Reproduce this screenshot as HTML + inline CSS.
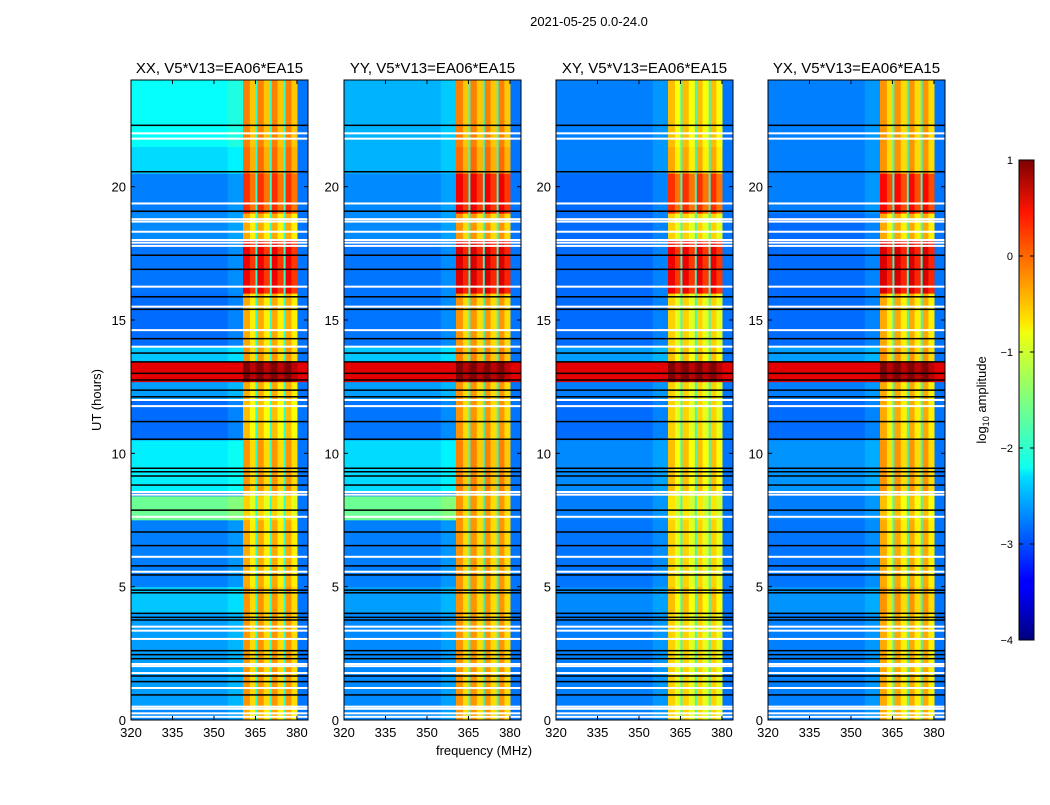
<!DOCTYPE html>
<html><head><meta charset="utf-8">
<style>
body{margin:0;background:#fff;font-family:"Liberation Sans",sans-serif;}
svg text{font-family:"Liberation Sans",sans-serif;}
</style></head>
<body>
<svg id="fig" width="1050" height="800" viewBox="0 0 1050 800">
<rect width="1050" height="800" fill="#fff"/>
<defs>
<linearGradient id="jet" x1="0" y1="1" x2="0" y2="0">
<stop offset="0" stop-color="#00007f"/><stop offset="0.11" stop-color="#0000ff"/>
<stop offset="0.125" stop-color="#0000ff"/><stop offset="0.34" stop-color="#00dcff"/>
<stop offset="0.36" stop-color="#0fffef"/><stop offset="0.5" stop-color="#7fff7f"/>
<stop offset="0.64" stop-color="#efff0f"/><stop offset="0.66" stop-color="#ffe800"/>
<stop offset="0.89" stop-color="#ff1600"/><stop offset="1" stop-color="#7f0000"/>
</linearGradient>
</defs>
<text x="589" y="26" font-size="13" text-anchor="middle">2021-05-25 0.0-24.0</text>
<g id="panels"></g>
<g>
<rect x="1019" y="160" width="15" height="480" fill="url(#jet)" stroke="#000" stroke-width="1"/>
</g>
<g id="cbticks"></g>
<text transform="translate(986,400) rotate(-90)" font-size="13" text-anchor="middle">log<tspan font-size="9" dy="3">10</tspan><tspan dy="-3"> amplitude</tspan></text>
<text x="484" y="755" font-size="13" text-anchor="middle">frequency (MHz)</text>
<text transform="translate(101,400) rotate(-90)" font-size="13" text-anchor="middle">UT (hours)</text>
</svg>
<script>
const panelTitles = ["XX, V5*V13=EA06*EA15","YY, V5*V13=EA06*EA15","XY, V5*V13=EA06*EA15","YX, V5*V13=EA06*EA15"];
const segEdges = [0,0.5,4,5,7.5,8.4,8.6,10.5,12,12.68,13.43,14,16,18,19,20.5,21.5,24];
const bgXX = [-2.7,-2.6,-2.4,-2.75,-1.6,-2.8,-2.2,-2.85,-2.6,0.5,-2.4,-2.85,-2.8,-2.7,-2.75,-2.3,-2.1];
const bgYY = [-2.7,-2.7,-2.6,-2.75,-1.6,-2.8,-2.3,-2.8,-2.6,0.5,-2.4,-2.8,-2.8,-2.7,-2.7,-2.5,-2.5];
const bgXY = [-2.75,-2.75,-2.7,-2.8,-2.75,-2.8,-2.7,-2.85,-2.75,0.5,-2.6,-2.85,-2.85,-2.85,-2.85,-2.75,-2.75];
const bgYX = [-2.75,-2.75,-2.65,-2.8,-2.75,-2.8,-2.65,-2.85,-2.75,0.5,-2.6,-2.85,-2.85,-2.85,-2.75,-2.75,-2.75];
const rfiXX = [-0.6,-0.5,-0.5,-0.6,-0.8,-0.6,-0.5,-0.7,-0.6,0.9,-0.5,-0.6,0.3,-0.6,0.0,-0.3,-0.4];
const rfiYY = [-0.5,-0.5,-0.5,-0.5,-0.5,-0.5,-0.4,-0.5,-0.5,0.9,-0.4,-0.5,0.4,-0.5,0.3,-0.3,-0.4];
const rfiXY = [-0.8,-0.8,-0.7,-0.8,-0.9,-0.8,-0.7,-0.8,-0.8,0.9,-0.7,-0.8,0.3,-0.8,0.0,-0.6,-0.7];
const rfiYX = [-0.6,-0.6,-0.5,-0.6,-0.7,-0.6,-0.5,-0.6,-0.6,0.9,-0.5,-0.6,0.4,-0.6,0.2,-0.5,-0.5];
const freqEdges = [320,355,360.5,363,365,365.7,368,370.2,370.9,373,375.2,375.9,378,380.2,384];
const colKind = ['bg','bg2','rfiA','rfiB','sep','rfiA','rfiB','sep','rfiA','rfiB','sep','rfiA','rfiB','blue'];
const whiteLines = [0.12,0.25,0.42,0.5,1.2,1.76,2.02,2.1,3.04,3.35,3.5,5.56,6.12,7.62,8.45,8.55,11.77,12.0,14.0,14.62,15.5,16.25,17.78,17.9,18.0,18.31,18.69,18.78,19.37,21.8,22.0];
const blackLines = [0.94,1.44,1.65,2.3,2.45,2.6,3.75,3.85,4.0,4.77,4.87,5.44,5.78,6.54,7.05,7.87,8.81,9.15,9.31,9.44,10.53,11.19,12.12,12.37,12.75,13.0,13.43,13.76,14.3,15.4,15.87,16.9,17.43,19.08,20.56,22.3];
const xTicks = [320,335,350,365,380];
const yTicks = [0,5,10,15,20];
const cbTicks = [1,0,-1,-2,-3,-4];
const panelX = [131,344,556,768];
const bgs=[bgXX,bgYY,bgXY,bgYX], rfis=[rfiXX,rfiYY,rfiXY,rfiYX];
const PW=177, PT=80, PH=640;
const NS="http://www.w3.org/2000/svg";
function jet(v){let t=(v+4)/5;t=Math.max(0,Math.min(1,t));
 const c=x=>Math.round(255*Math.max(0,Math.min(1,x)));
 return `rgb(${c(1.5-Math.abs(4*t-3))},${c(1.5-Math.abs(4*t-2))},${c(1.5-Math.abs(4*t-1))})`;}
function mk(tag,attrs,parent){const e=document.createElementNS(NS,tag);for(const k in attrs)e.setAttribute(k,attrs[k]);parent.appendChild(e);return e;}
const root=document.getElementById('panels');
panelX.forEach((x0,p)=>{
 const xs=f=>x0+(f-320)*(PW/64);
 const ys=h=>PT+PH-h*(PH/24);
 const g=mk('g',{},root);
 
 
 for(let s=0;s<segEdges.length-1;s++){
  const bg=bgs[p][s], rf=rfis[p][s];
  for(let c=0;c<colKind.length;c++){
   const k=colKind[c];let v;
   if(k==='bg')v=bg;else if(k==='bg2')v=bg>-1?bg:bg+0.12;else if(k==='rfiA')v=rf+0.15;else if(k==='rfiB')v=rf-0.2;
   else if(k==='sep')v=bg>-1?rf:-1.9;else v=bg>-1?bg:-2.8;
   const y1=ys(segEdges[s+1]),y2=ys(segEdges[s]);
   const r=mk('rect',{x:xs(freqEdges[c]),y:y1,width:xs(freqEdges[c+1])-xs(freqEdges[c])+0.3,height:y2-y1+0.3,fill:jet(v)},g);
   
   
  }
 }
 whiteLines.forEach(h=>{const l=mk('rect',{x:x0,y:ys(h)-1,width:PW,height:2,fill:'#fff'},g);
  
  });
 blackLines.forEach(h=>{const l=mk('rect',{x:x0,y:ys(h)-0.75,width:PW,height:1.5,fill:'#000'},g);
  
  });
 const fr=mk('rect',{x:x0,y:PT,width:PW,height:PH,fill:'none',stroke:'#000','stroke-width':1},g);
 
 
 const t=mk('text',{x:x0+PW/2,y:PT-7,'font-size':15,'text-anchor':'middle'},g);t.textContent=panelTitles[p];
 
 
 xTicks.forEach(f=>{const x=xs(f);
  mk('line',{x1:x,x2:x,y1:PT+PH,y2:PT+PH-4,stroke:'#000'},g);
  mk('line',{x1:x,x2:x,y1:PT,y2:PT+4,stroke:'#000'},g);
  const tl=mk('text',{x:x,y:PT+PH+17,'font-size':13,'text-anchor':'middle'},g);tl.textContent=f;
  
  });
 yTicks.forEach(h=>{const y=ys(h);
  mk('line',{x1:x0,x2:x0+4,y1:y,y2:y,stroke:'#000'},g);
  mk('line',{x1:x0+PW,x2:x0+PW-4,y1:y,y2:y,stroke:'#000'},g);
  const tl=mk('text',{x:x0-5,y:y+5,'font-size':13,'text-anchor':'end'},g);tl.textContent=h;
  
  });
});
const cb=document.getElementById('cbticks');
cbTicks.forEach(v=>{const y=160+(1-v)*96;
 mk('line',{x1:1019,x2:1023,y1:y,y2:y,stroke:'#000'},cb);
 mk('line',{x1:1034,x2:1030,y1:y,y2:y,stroke:'#000'},cb);
 const t=mk('text',{x:1013,y:y+4,'font-size':11,'text-anchor':'end'},cb);t.textContent=v<0?'\u2212'+(-v):v;
 
 });
</script>
</body></html>
